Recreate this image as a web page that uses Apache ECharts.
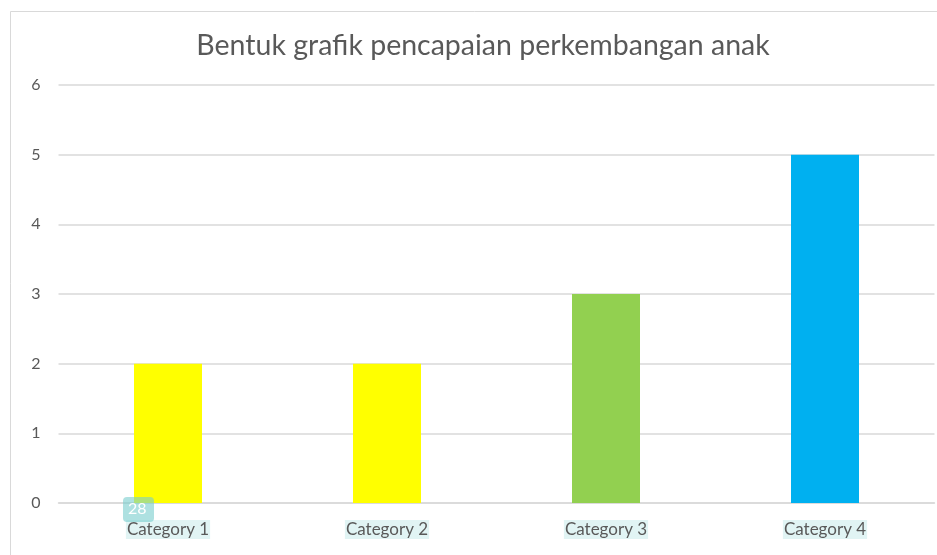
<!DOCTYPE html>
<html>
<head>
<meta charset="utf-8">
<script src="https://cdn.jsdelivr.net/npm/echarts@6/dist/echarts.min.js"></script>
<style>
html,body{margin:0;padding:0;background:#fff;}
#chart{width:937px;height:555px;}
</style>
</head>
<body>
<div id="chart"></div>
<script>
const titleText = 'Bentuk grafik pencapaian perkembangan anak';
const categories = ['Category 1', 'Category 2', 'Category 3', 'Category 4'];
const values = [2, 2, 3, 5];
const barColors = ['#FFFF00', '#FFFF00', '#92D050', '#00B0F0'];
const badgeText = '28';

const chart = echarts.init(document.getElementById('chart'));
chart.setOption({
  animation: false,
  backgroundColor: '#fff',
  title: {
    text: titleText,
    left: 478, top: 26, textAlign: 'center',
    textStyle: {fontFamily: 'Lato', fontSize: 28.5, fontWeight: 'normal', color: '#595959'}
  },
  grid: {left: 58.5, right: 2.5, top: 85, bottom: 52, containLabel: false},
  xAxis: {
    type: 'category',
    data: categories,
    axisLine: {lineStyle: {color: '#d9d9d9', width: 1.5}},
    axisTick: {show: false},
    axisLabel: {
      margin: 17,
      fontFamily: 'Lato', fontSize: 17, color: '#595959',
      backgroundColor: '#e1f4f4', padding: [1, 1, 1, 1]
    }
  },
  yAxis: {
    type: 'value', min: 0, max: 6, interval: 1,
    axisLine: {show: false},
    axisTick: {show: false},
    splitLine: {lineStyle: {color: '#d9d9d9', width: 1.5}},
    axisLabel: {margin: 18, fontFamily: 'Lato', fontSize: 16, color: '#595959'}
  },
  series: [{
    type: 'bar',
    barWidth: 68,
    data: values.map((v, i) => ({value: v, itemStyle: {color: barColors[i]}}))
  }],
  graphic: [
    {type: 'rect', left: 8, top: 9, shape: {width: 940, height: 560},
     style: {fill: 'none', stroke: '#d9d9d9', lineWidth: 1}, silent: true},
    {type: 'rect', left: 123, top: 497, shape: {width: 31, height: 25, r: 4},
     style: {fill: 'rgba(120,205,205,0.6)'}, z: 100},
    {type: 'text', left: 128, top: 501,
     style: {text: badgeText, fill: '#ffffff', fontFamily: 'Lato', fontSize: 16}, z: 101}
  ]
});
</script>
</body>
</html>
